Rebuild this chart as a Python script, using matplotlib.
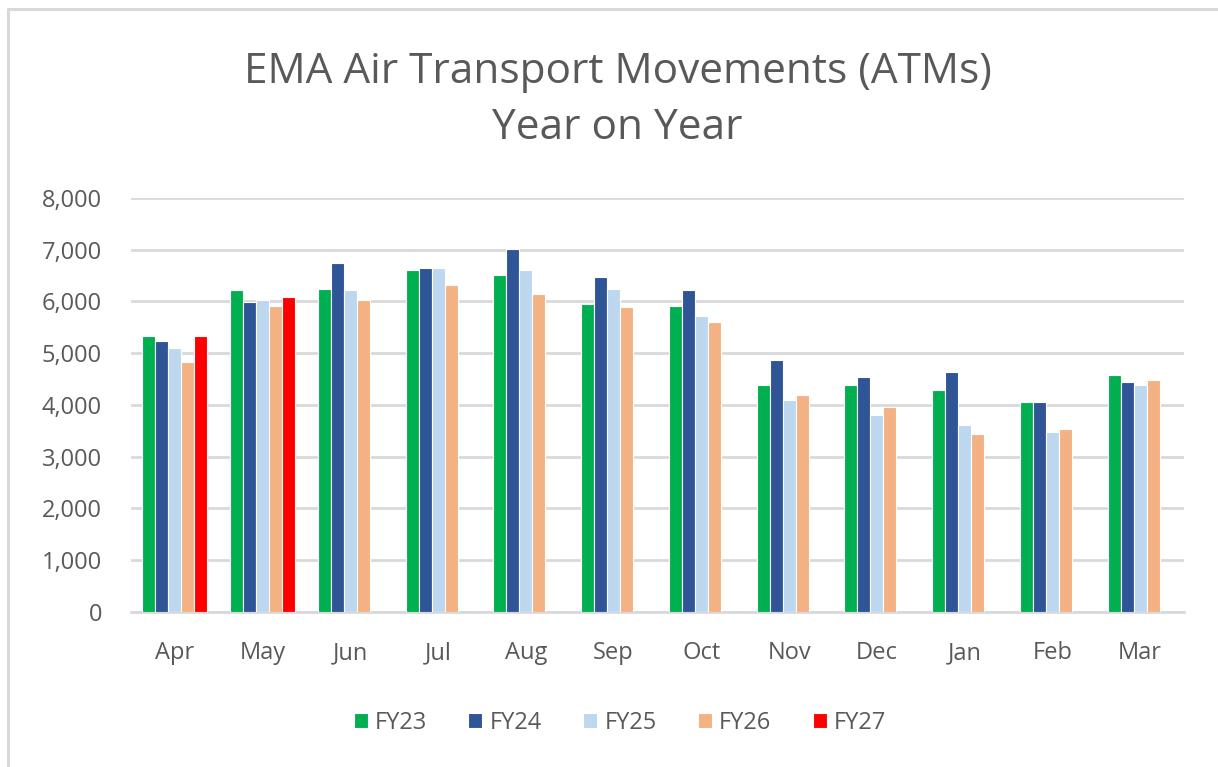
import numpy as np
import matplotlib.pyplot as plt
from matplotlib.lines import Line2D

# === DATOS ===
months = ['Apr', 'May', 'Jun', 'Jul', 'Aug', 'Sep', 'Oct', 'Nov', 'Dec', 'Jan', 'Feb', 'Mar']
fy23 = [5325, 6214, 6247, 6604, 6506, 5955, 5922, 4381, 4381, 4284, 4058, 4574]
fy24 = [5227, 5987, 6740, 6643, 7020, 6474, 6214, 4865, 4548, 4645, 4058, 4445]
fy25 = [5097, 6019, 6214, 6643, 6604, 6247, 5727, 4090, 3800, 3606, 3477, 4381]
fy26 = [4831, 5922, 6019, 6312, 6149, 5890, 5597, 4187, 3961, 3445, 3542, 4477]
fy27 = [5325, 6078] + [np.nan] * 10

series = ['FY23', 'FY24', 'FY25', 'FY26', 'FY27']
values = [fy23, fy24, fy25, fy26, fy27]
colors = ['#00B050', '#2F5597', '#BDD7EE', '#F4B183', '#FF0000']

plt.rcParams['font.family'] = ['Open Sans', 'DejaVu Sans']
txt = '#595959'

fig = plt.figure(figsize=(12.18, 7.67), dpi=100)
# marco del gráfico (solo borde izquierdo y superior visibles en la captura)
fig.add_artist(Line2D([0.0066, 0.0066, 1.0], [0.0, 0.9883, 0.9883], transform=fig.transFigure,
                      color='#d9d9d9', linewidth=2.2))
ax = fig.add_axes([0.1076, 0.2021, 0.8644, 0.5398])

x = np.arange(len(months))
w = 0.148
for i, (name, vals, c) in enumerate(zip(series, values, colors)):
    ax.bar(x + (i - 2) * w, vals, width=w, color=c, edgecolor='white', linewidth=0.8, label=name, zorder=3)

ax.set_xlim(-0.5, 11.5)
ax.set_ylim(0, 8000)
ax.set_yticks(range(0, 8001, 1000))
ax.set_yticklabels([f'{v:,}' for v in range(0, 8001, 1000)])
ax.set_xticks(x)
ax.set_xticklabels(months)
ax.tick_params(axis='both', length=0, labelsize=17, colors=txt)
ax.tick_params(axis='x', pad=21)
ax.tick_params(axis='y', pad=21)
ax.grid(axis='y', color='#d9d9d9', linewidth=2, zorder=0)
for s in ['top', 'right', 'left']:
    ax.spines[s].set_visible(False)
ax.spines['bottom'].set_color('#d9d9d9')
ax.spines['bottom'].set_linewidth(2)

fig.text(0.507, 0.906, 'EMA Air Transport Movements (ATMs)', ha='center', va='center', fontsize=30.5, color=txt)
fig.text(0.507, 0.833, 'Year on Year', ha='center', va='center', fontsize=30.5, color=txt)

fig.legend(loc='center', bbox_to_anchor=(0.509, 0.058), ncol=5, frameon=False, fontsize=17,
           handlelength=0.6, handleheight=0.6, handletextpad=0.3, columnspacing=1.75, labelcolor=txt)

fig.savefig('out.png', dpi=100)
